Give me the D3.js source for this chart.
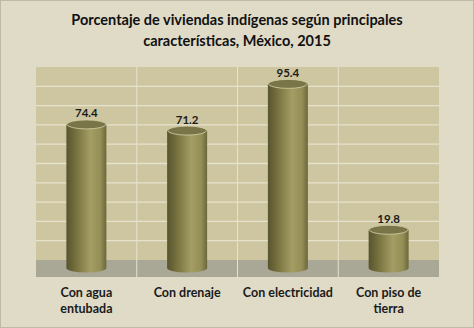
<!DOCTYPE html>
<html><head><meta charset="utf-8">
<script src="https://cdnjs.cloudflare.com/ajax/libs/d3/7.8.5/d3.min.js"></script>
<style>body{margin:0;background:#fff}svg{display:block}</style>
</head><body>
<script>
const categories = [["Con agua","entubada"],["Con drenaje"],["Con electricidad"],["Con piso de","tierra"]];
const values = [74.4, 71.2, 95.4, 19.8];
const valueLabels = ["74.4","71.2","95.4","19.8"];
const gridTicks = [10,20,30,40,50,60,70,80,90];
const titleLines = ["Porcentaje de viviendas indígenas según principales","características, México, 2015"];

(function(){
const W=474,H=328;
const svg=d3.select("body").append("svg").attr("width",W).attr("height",H);
const defs=svg.append("defs");
const g=defs.append("linearGradient").attr("id","cyl").attr("x1","0").attr("x2","1");
[[0,"#58542e"],[0.25,"#77723f"],[0.6,"#a49e64"],[0.85,"#948e57"],[1,"#6c6739"]].forEach(([o,c])=>g.append("stop").attr("offset",o).attr("stop-color",c));

svg.append("rect").attr("x",0.5).attr("y",0.5).attr("width",W-1).attr("height",H-1).attr("fill","#dfdbc7").attr("stroke","#bdbaa9");

const pLeft=36,pRight=439,pTop=67,floorTop=260,floorBot=277;
const x=d3.scaleBand().domain(d3.range(values.length)).range([pLeft,pRight]).paddingInner(0).paddingOuter(0);
const yWall=d3.scaleLinear().domain([0,100]).range([floorTop,pTop]);
const yBar=d3.scaleLinear().domain([0,100]).range([268,75]);

svg.append("rect").attr("x",pLeft).attr("y",pTop).attr("width",pRight-pLeft).attr("height",floorTop-pTop).attr("fill","#cdc6a1");
svg.append("rect").attr("x",pLeft).attr("y",floorTop).attr("width",pRight-pLeft).attr("height",floorBot-floorTop).attr("fill","#a9a795");
svg.append("g").selectAll("line").data(gridTicks).join("line")
 .attr("x1",pLeft).attr("x2",pRight).attr("y1",d=>yWall(d)).attr("y2",d=>yWall(d))
 .attr("stroke","#e6e2cd").attr("stroke-width",1.3);
svg.append("g").selectAll("line").data(d3.range(1,values.length)).join("line")
 .attr("x1",d=>x(d)).attr("x2",d=>x(d)).attr("y1",pTop).attr("y2",floorBot)
 .attr("stroke","#e6e2cd").attr("stroke-width",1);

const bw=40, ry=4.5;
const bars=svg.append("g").selectAll("g").data(values).join("g");
bars.append("path").attr("d",(d,i)=>{
  const cx=x(i)+x.bandwidth()/2, x0=cx-bw/2, x1=cx+bw/2, yt=yBar(d), yb=yBar(0);
  return `M${x0},${yt}L${x0},${yb}A${bw/2},${ry} 0 0 0 ${x1},${yb}L${x1},${yt}Z`;
}).attr("fill","url(#cyl)");
bars.append("ellipse").attr("cx",(d,i)=>x(i)+x.bandwidth()/2).attr("cy",d=>yBar(d))
 .attr("rx",bw/2-0.5).attr("ry",ry).attr("fill","#7a7548").attr("stroke","#d6d1a8").attr("stroke-width",0.8);
bars.append("text").attr("x",(d,i)=>x(i)+x.bandwidth()/2).attr("y",d=>yBar(d)-7)
 .attr("text-anchor","middle").attr("font-family","Lato, 'Open Sans', sans-serif").attr("font-weight","bold")
 .attr("font-size",11.5).attr("fill","#1a1a1a").text((d,i)=>valueLabels[i]);

const ct=svg.append("g").selectAll("text").data(categories).join("text")
 .attr("text-anchor","middle").attr("font-family","Lato, 'Open Sans', sans-serif").attr("font-weight","bold")
 .attr("font-size",12.5).attr("fill","#1a1a1a");
ct.selectAll("tspan").data((d,i)=>d.map(s=>({s,i}))).join("tspan")
 .attr("x",d=>x(d.i)+x.bandwidth()/2).attr("y",(d,j)=>297+j*16).text(d=>d.s);

svg.append("g").selectAll("text").data(titleLines).join("text")
 .attr("x",W/2).attr("y",(d,i)=>25+i*21).attr("text-anchor","middle")
 .attr("font-family","Lato, 'Open Sans', sans-serif").attr("font-weight","bold").attr("font-size",14.5)
 .attr("fill","#111").text(d=>d);
})();
</script>
</body></html>
